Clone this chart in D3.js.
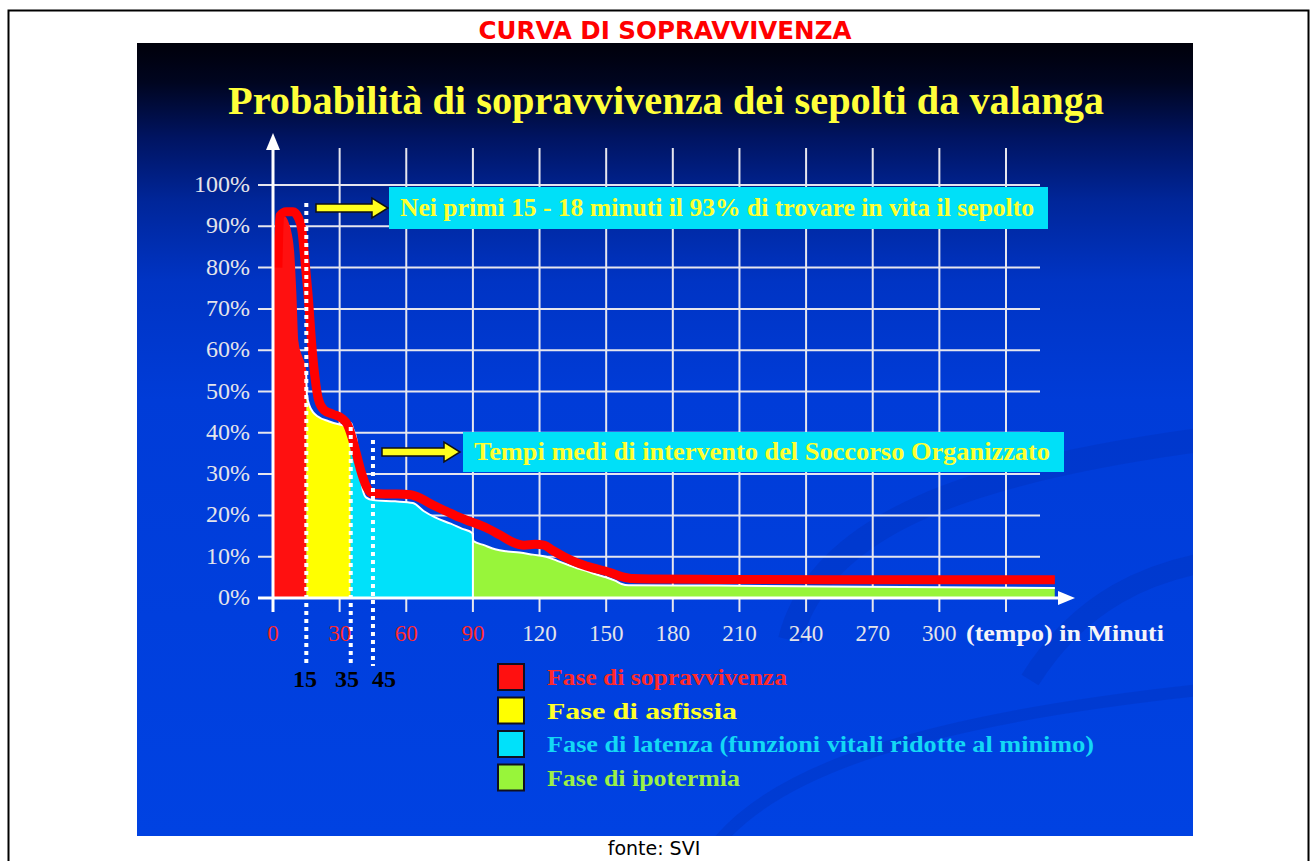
<!DOCTYPE html>
<html>
<head>
<meta charset="utf-8">
<script src="https://cdn.jsdelivr.net/npm/d3@7"></script>
<style>
  html, body { margin: 0; padding: 0; background: #fff; }
  svg { display: block; }
</style>
</head>
<body>
<div id="chart"></div>
<script>
// ---- data ----
const yTicks = [0, 10, 20, 30, 40, 50, 60, 70, 80, 90, 100];
const xTicks = [0, 30, 60, 90, 120, 150, 180, 210, 240, 270, 300];
const xGrid = [30, 60, 90, 120, 150, 180, 210, 240, 270, 300, 330];
const redTicks = [0, 30, 60, 90];
const markers = [15, 35, 45];

const phaseNames = [
  'Fase di sopravvivenza',
  'Fase di asfissia',
  'Fase di latenza (funzioni vitali ridotte al minimo)',
  'Fase di ipotermia'
];
const phaseColors = ['#ff1010', '#ffff00', '#00e1fa', '#98f53a'];
const phaseTextColors = ['#ff2a2a', '#ffff2a', '#14d8f5', '#9cf046'];
const phaseBounds = [0, 15, 35, 90, 352];

// survival curve (thick red line), minutes / percent
const curveTime = [2.2, 3, 6, 9, 11.5, 13, 14.5, 16, 17.5, 19,
  20.5, 23, 27, 31, 33.5, 35.5, 37.5, 40, 42.5, 45,
  50, 56, 62, 67, 72, 78, 84, 90, 96, 102,
  108, 113, 118, 122, 126, 131, 137, 144, 151, 157,
  162, 170, 200, 250, 300, 352];
const curveValue = [80, 92.5, 93.5, 93.5, 92, 89, 81, 72, 61, 53,
  48, 45.5, 44.5, 43.5, 42, 39, 35, 30, 26.5, 25.3,
  25.2, 25.2, 25, 24, 22.5, 21, 19.5, 18.3, 17, 15.3,
  13.5, 12.8, 13, 12.8, 11.5, 10, 8.5, 7.3, 6.3, 5.2,
  4.7, 4.6, 4.5, 4.4, 4.4, 4.4];

// filled phases (white edged area under the curve)
const fillTime = [0, 1, 2.5, 5, 7, 8.5, 9.5, 10.5, 11.5, 12.5,
  13.5, 14.5, 14.9, 15.3, 16.5, 18, 20, 25, 30, 34.8,
  35.2, 36, 37.5, 39, 40.5, 42, 45, 55, 63, 68,
  73, 80, 85, 89.8, 90.2, 95, 100, 105, 111, 117,
  123, 128, 133, 137, 141, 145, 150, 154, 157, 160,
  200, 250, 300, 352];
const fillValue = [80, 89, 92.5, 92.5, 91, 88, 84, 74, 62, 59.5,
  58, 56.5, 55, 49, 46.5, 45, 44, 42.8, 42, 41.5,
  42.3, 41, 38.5, 32, 26, 24.3, 23.7, 23.4, 23, 21,
  19.5, 18, 16.8, 15.7, 13.8, 12.8, 11.8, 11.3, 11, 10.5,
  10, 9, 8, 7.2, 6.6, 5.8, 5, 4.2, 3.4, 3.1,
  3, 2.8, 2.6, 2.4];

const notes = [
  'Nei primi 15 - 18 minuti il 93% di trovare in vita il sepolto',
  'Tempi medi di intervento del Soccorso Organizzato'
];

// ---- drawing ----
const W = 1311, H = 861;
const serif = '"Liberation Serif", "Times New Roman", serif';

const svg = d3.select('#chart').append('svg')
  .attr('width', W)
  .attr('height', H);

svg.append('rect').attr('width', W).attr('height', H).attr('fill', '#fff');
svg.append('rect')
  .attr('x', 8.5).attr('y', 10.5).attr('width', 1300).attr('height', 900)
  .attr('fill', 'none').attr('stroke', '#000').attr('stroke-width', 2);

svg.append('text')
  .attr('x', 665).attr('y', 39)
  .attr('text-anchor', 'middle')
  .style('font-family', '"DejaVu Sans", Verdana, sans-serif')
  .style('font-weight', 'bold')
  .style('font-size', '24px')
  .attr('fill', '#ff0000')
  .attr('textLength', 373).attr('lengthAdjust', 'spacingAndGlyphs')
  .text('CURVA DI SOPRAVVIVENZA');

svg.append('text')
  .attr('x', 654).attr('y', 855)
  .attr('text-anchor', 'middle')
  .style('font-family', '"DejaVu Sans", Verdana, sans-serif')
  .style('font-size', '19px')
  .attr('fill', '#000')
  .text('fonte: SVI');

// slide background
const defs = svg.append('defs');
const grad = defs.append('linearGradient').attr('id', 'bg')
  .attr('x1', 0).attr('y1', 0).attr('x2', 0).attr('y2', 1);
[[0, '#00000a'], [0.05, '#000520'], [0.12, '#001462'], [0.2, '#00269a'],
 [0.3, '#0034c4'], [0.45, '#003cd8'], [1, '#0042e2']].forEach(([o, c]) =>
  grad.append('stop').attr('offset', o).attr('stop-color', c));

svg.append('rect')
  .attr('x', 137).attr('y', 43).attr('width', 1056).attr('height', 793)
  .attr('fill', 'url(#bg)');

// faint swooshes in the background
defs.append('clipPath').attr('id', 'slideClip').append('rect')
  .attr('x', 137).attr('y', 43).attr('width', 1056).attr('height', 793);
const swoosh = svg.append('g').attr('clip-path', 'url(#slideClip)')
  .attr('fill', 'none').attr('stroke', '#0030b4').attr('stroke-opacity', 0.3);
swoosh.append('path').attr('d', 'M790,640 C820,520 980,470 1200,440').attr('stroke-width', 24);
swoosh.append('path').attr('d', 'M1030,680 C1080,600 1150,570 1220,560').attr('stroke-width', 20);
swoosh.append('path').attr('d', 'M720,840 C780,770 920,720 1200,690').attr('stroke-width', 12);

svg.append('text')
  .attr('x', 666).attr('y', 114)
  .attr('text-anchor', 'middle')
  .style('font-family', serif)
  .style('font-weight', 'bold')
  .style('font-size', '40px')
  .attr('fill', '#ffff3a')
  .attr('textLength', 876).attr('lengthAdjust', 'spacingAndGlyphs')
  .text('Probabilità di sopravvivenza dei sepolti da valanga');

// scales
const x = d3.scaleLinear().domain([0, 330]).range([273, 1006]);
const y = d3.scaleLinear().domain([0, 100]).range([598, 185]);

const grid = svg.append('g').attr('stroke', '#e6e6ee').attr('stroke-width', 2);
grid.selectAll('line.h').data(yTicks.filter(d => d > 0)).join('line')
  .attr('class', 'h')
  .attr('x1', 258).attr('x2', 1040)
  .attr('y1', d => y(d)).attr('y2', d => y(d));
grid.selectAll('line.v').data(xGrid).join('line')
  .attr('class', 'v')
  .attr('x1', d => x(d)).attr('x2', d => x(d))
  .attr('y1', 148).attr('y2', 612);

// phase areas clipped by phase bounds
const pts = fillTime.map((t, i) => [t, fillValue[i]]);
const area = d3.area().x(d => x(d[0])).y0(y(0)).y1(d => y(d[1])).curve(d3.curveMonotoneX);
const topLine = d3.line().x(d => x(d[0])).y(d => y(d[1])).curve(d3.curveMonotoneX);

phaseColors.forEach((c, i) => {
  defs.append('clipPath').attr('id', 'ph' + i).append('rect')
    .attr('x', x(phaseBounds[i])).attr('y', 0)
    .attr('width', x(phaseBounds[i + 1]) - x(phaseBounds[i]))
    .attr('height', y(0));
  svg.append('path').datum(pts)
    .attr('clip-path', `url(#ph${i})`)
    .attr('d', area).attr('fill', c);
});
svg.append('path').datum(pts.filter(d => d[0] > 14.5))
  .attr('d', topLine).attr('fill', 'none')
  .attr('stroke', '#ffffff').attr('stroke-width', 2);
svg.append('line')
  .attr('x1', x(90)).attr('x2', x(90))
  .attr('y1', y(fillValue[fillTime.indexOf(89.8)])).attr('y2', y(0))
  .attr('stroke', '#fff').attr('stroke-width', 2);

// survival curve
const curvePts = curveTime.map((t, i) => [t, curveValue[i]]);
svg.append('path').datum(curvePts)
  .attr('d', d3.line().x(d => x(d[0])).y(d => y(d[1])).curve(d3.curveMonotoneX))
  .attr('fill', 'none').attr('stroke', '#ff0000')
  .attr('stroke-width', 9).attr('stroke-linejoin', 'round').attr('stroke-linecap', 'butt');

// dotted markers
const markerTop = [203, 427, 440];
svg.selectAll('line.mk').data(markers).join('line')
  .attr('class', 'mk')
  .attr('x1', d => x(d)).attr('x2', d => x(d))
  .attr('y1', (d, i) => markerTop[i]).attr('y2', 666)
  .attr('stroke', '#fff').attr('stroke-width', 4).attr('stroke-dasharray', '4,4');
const markerLabelX = [305, 347, 384];
svg.selectAll('text.mk').data(markers).join('text')
  .attr('class', 'mk')
  .attr('x', (d, i) => markerLabelX[i]).attr('y', 687)
  .attr('text-anchor', 'middle')
  .style('font-family', serif).style('font-weight', 'bold').style('font-size', '24px')
  .attr('fill', '#000')
  .text(d => d);

// axes
const axes = svg.append('g').attr('stroke', '#fff').attr('stroke-width', 3);
axes.append('line').attr('x1', x(0)).attr('x2', x(0)).attr('y1', 612).attr('y2', 148);
axes.append('line').attr('x1', 258).attr('x2', 1062).attr('y1', y(0)).attr('y2', y(0));
svg.append('path').attr('fill', '#fff')
  .attr('d', `M${x(0)},133 L${x(0) - 7},150 L${x(0) + 7},150 Z`);
svg.append('path').attr('fill', '#fff')
  .attr('d', `M1075,${y(0)} L1058,${y(0) - 7} L1058,${y(0) + 7} Z`);
svg.append('line').attr('x1', x(0)).attr('x2', x(0)).attr('y1', y(0)).attr('y2', 612)
  .attr('stroke', '#fff').attr('stroke-width', 2);

svg.selectAll('text.yt').data(yTicks).join('text')
  .attr('class', 'yt')
  .attr('x', 250).attr('y', d => y(d) + 7)
  .attr('text-anchor', 'end')
  .style('font-family', serif).style('font-size', '24px')
  .attr('fill', '#e4e4ea')
  .text(d => d + '%');

svg.selectAll('text.xt').data(xTicks).join('text')
  .attr('class', 'xt')
  .attr('x', d => x(d)).attr('y', 641)
  .attr('text-anchor', 'middle')
  .style('font-family', serif).style('font-size', '23px')
  .attr('fill', d => redTicks.includes(d) ? '#ff2a2a' : '#e4e4ea')
  .text(d => d);
svg.append('text')
  .attr('x', 966).attr('y', 641)
  .style('font-family', serif).style('font-size', '23px').style('font-weight', 'bold')
  .attr('fill', '#f4f4f8')
  .attr('textLength', 198).attr('lengthAdjust', 'spacingAndGlyphs')
  .text('(tempo) in Minuti');

// annotation boxes with arrows
const noteBox = [
  { x: 389, y: 187, w: 659, h: 42, ax0: 316, ax1: 388, tw: 634 },
  { x: 463, y: 432, w: 601, h: 40, ax0: 382, ax1: 460, tw: 576 }
];
notes.forEach((t, i) => {
  const b = noteBox[i];
  const cy = b.y + b.h / 2;
  svg.append('path')
    .attr('d', `M${b.ax0},${cy - 4} L${b.ax1 - 16},${cy - 4} L${b.ax1 - 16},${cy - 10} L${b.ax1},${cy} L${b.ax1 - 16},${cy + 10} L${b.ax1 - 16},${cy + 4} L${b.ax0},${cy + 4} Z`)
    .attr('fill', '#ffff1e').attr('stroke', '#111').attr('stroke-width', 1.5);
  svg.append('rect')
    .attr('x', b.x).attr('y', b.y).attr('width', b.w).attr('height', b.h)
    .attr('fill', '#00e0f8');
  svg.append('text')
    .attr('x', b.x + 11).attr('y', cy + 8)
    .style('font-family', serif).style('font-weight', 'bold').style('font-size', '26px')
    .attr('fill', '#ffff30')
    .attr('textLength', b.tw).attr('lengthAdjust', 'spacingAndGlyphs')
    .text(t);
});

// legend
const legendWidths = [240, 190, 547, 193];
const leg = svg.append('g').attr('transform', 'translate(498,664)');
const row = leg.selectAll('g').data(phaseNames).join('g')
  .attr('transform', (d, i) => `translate(0,${i * 33.5})`);
row.append('rect')
  .attr('width', 26).attr('height', 26)
  .attr('fill', (d, i) => phaseColors[i])
  .attr('stroke', '#101020').attr('stroke-width', 2);
row.append('text')
  .attr('x', 49).attr('y', 21)
  .style('font-family', serif).style('font-weight', 'bold').style('font-size', '24px')
  .attr('fill', (d, i) => phaseTextColors[i])
  .attr('textLength', (d, i) => legendWidths[i]).attr('lengthAdjust', 'spacingAndGlyphs')
  .text(d => d);
</script>
</body>
</html>
